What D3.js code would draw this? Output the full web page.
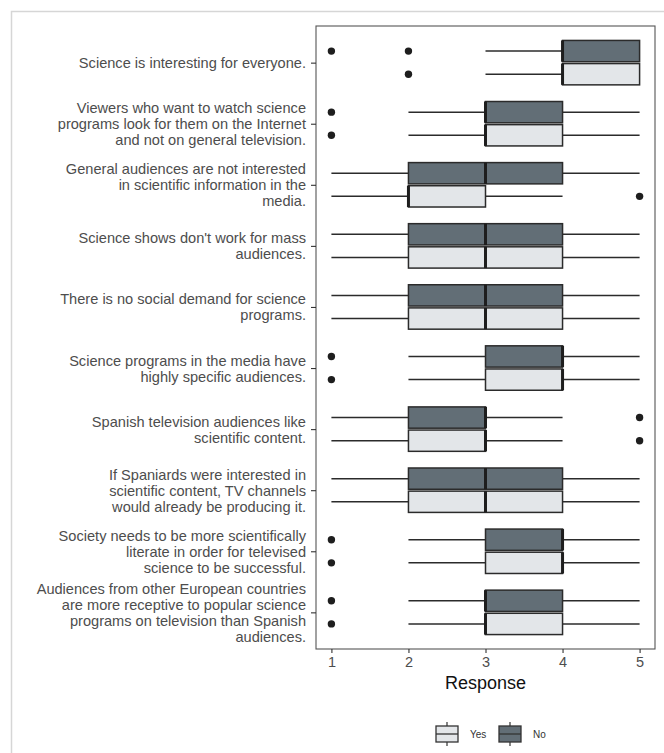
<!DOCTYPE html>
<html>
<head>
<meta charset="utf-8">
<script src="https://cdn.jsdelivr.net/npm/d3@7"></script>
<style>
  html, body { margin: 0; padding: 0; background: #fff; }
  svg { display: block; font-family: "Liberation Sans", Arial, sans-serif; }
</style>
</head>
<body>
<svg id="chart" width="664" height="753"></svg>
<script>
// Survey statements (wrapped onto lines as drawn on the axis)
const statements = [
  ["Science is interesting for everyone."],
  ["Viewers who want to watch science", "programs look for them on the Internet", "and not on general television."],
  ["General audiences are not interested", "in scientific information in the", "media."],
  ["Science shows don't work for mass", "audiences."],
  ["There is no social demand for science", "programs."],
  ["Science programs in the media have", "highly specific audiences."],
  ["Spanish television audiences like", "scientific content."],
  ["If Spaniards were interested in", "scientific content, TV channels", "would already be producing it."],
  ["Society needs to be more scientifically", "literate in order for televised", "science to be successful."],
  ["Audiences from other European countries", "are more receptive to popular science", "programs on television than Spanish", "audiences."]
];

const groups = ["No", "Yes"];          // stacking order inside each row
const legendGroups = ["Yes", "No"];    // legend order
const xTicks = [1, 2, 3, 4, 5];

// Five-number summaries per statement
const noLow     = [3, 2, 1, 1, 1, 2, 1, 1, 2, 2];
const noQ1      = [4, 3, 2, 2, 2, 3, 2, 2, 3, 3];
const noMedian  = [4, 3, 3, 3, 3, 4, 3, 3, 4, 3];
const noQ3      = [5, 4, 4, 4, 4, 4, 3, 4, 4, 4];
const noHigh    = [5, 5, 5, 5, 5, 5, 4, 5, 5, 5];
const noOutliers = [[1, 2], [1], [], [], [], [1], [5], [], [1], [1]];

const yesLow    = [3, 2, 1, 1, 1, 2, 1, 1, 2, 2];
const yesQ1     = [4, 3, 2, 2, 2, 3, 2, 2, 3, 3];
const yesMedian = [4, 3, 2, 3, 3, 4, 3, 3, 4, 3];
const yesQ3     = [5, 4, 3, 4, 4, 4, 3, 4, 4, 4];
const yesHigh   = [5, 5, 4, 5, 5, 5, 4, 5, 5, 5];
const yesOutliers = [[2], [1], [5], [], [], [1], [5], [], [1], [1]];

const fills = { Yes: "#e3e6e9", No: "#626e76" };

const rows = [];
statements.forEach((s, i) => {
  rows.push({ idx: i, group: "No", low: noLow[i], q1: noQ1[i], med: noMedian[i], q3: noQ3[i], high: noHigh[i], out: noOutliers[i] });
  rows.push({ idx: i, group: "Yes", low: yesLow[i], q1: yesQ1[i], med: yesMedian[i], q3: yesQ3[i], high: yesHigh[i], out: yesOutliers[i] });
});

const svg = d3.select("#chart");

// outer frame
svg.append("path")
  .attr("d", "M11.5,753 V11.5 H664")
  .attr("fill", "none").attr("stroke", "#d6d6d6").attr("stroke-width", 1.5);

const panel = { left: 316, right: 655, top: 26, bottom: 649 };

const x = d3.scaleLinear().domain([0.8, 5.2]).range([panel.left, panel.right]);
const y = d3.scalePoint().domain(d3.range(statements.length)).range([panel.top, panel.bottom]).padding(0.6);
const step = y.step();
const inner = d3.scaleBand().domain(groups)
  .range([-0.375 * step, 0.375 * step]).paddingInner(0.08).paddingOuter(0.03);
const bh = inner.bandwidth();

const g = svg.append("g");

const box = g.selectAll("g.box").data(rows).join("g")
  .attr("class", "box")
  .attr("transform", d => `translate(0,${y(d.idx) + inner(d.group) + bh / 2})`);

// whiskers
box.append("line")
  .attr("x1", d => x(d.low)).attr("x2", d => x(d.q1))
  .attr("stroke", "#2b2b2b").attr("stroke-width", 1.5);
box.append("line")
  .attr("x1", d => x(d.q3)).attr("x2", d => x(d.high))
  .attr("stroke", "#2b2b2b").attr("stroke-width", 1.5);

// boxes
box.append("rect")
  .attr("x", d => x(d.q1)).attr("width", d => x(d.q3) - x(d.q1))
  .attr("y", -bh / 2).attr("height", bh)
  .attr("fill", d => fills[d.group])
  .attr("stroke", "#2b2b2b").attr("stroke-width", 1.5);

// medians
box.append("line")
  .attr("x1", d => x(d.med)).attr("x2", d => x(d.med))
  .attr("y1", -bh / 2).attr("y2", bh / 2)
  .attr("stroke", "#1e1e1e").attr("stroke-width", 3);

// outliers
box.selectAll("circle").data(d => d.out).join("circle")
  .attr("cx", v => x(v)).attr("cy", 0).attr("r", 3.7)
  .attr("fill", "#1e1e1e");

// panel border
svg.append("rect")
  .attr("x", panel.left).attr("y", panel.top)
  .attr("width", panel.right - panel.left).attr("height", panel.bottom - panel.top)
  .attr("fill", "none").attr("stroke", "#555").attr("stroke-width", 1.1);

// x axis
const xAxis = d3.axisBottom(x).tickValues(xTicks).tickSize(4).tickPadding(4).tickFormat(d3.format("d"));
const xg = svg.append("g").attr("transform", `translate(0,${panel.bottom})`).call(xAxis);
xg.select(".domain").remove();
xg.selectAll(".tick line").attr("stroke", "#333").attr("stroke-width", 1.1);
xg.selectAll(".tick text").attr("fill", "#4d4d4d").attr("font-size", 14.5).attr("font-family", "Liberation Sans, Arial, sans-serif");

svg.append("text")
  .attr("x", (panel.left + panel.right) / 2).attr("y", 689)
  .attr("text-anchor", "middle").attr("font-size", 18).attr("fill", "#111")
  .text("Response");

// y axis
const yAxis = d3.axisLeft(y).tickSize(5).tickFormat(() => "");
const yg = svg.append("g").attr("transform", `translate(${panel.left},0)`).call(yAxis);
yg.select(".domain").remove();
yg.selectAll(".tick line").attr("stroke", "#333").attr("stroke-width", 1.1);

const lineH = 16;
yg.selectAll(".tick text").each(function (d) {
  const lines = statements[d];
  const t = d3.select(this)
    .attr("x", -10).attr("dy", null)
    .attr("y", -(lines.length - 1) * lineH / 2)
    .attr("text-anchor", "end").attr("dominant-baseline", "central")
    .attr("fill", "#4d4d4d").attr("font-size", 14.6)
    .attr("font-family", "Liberation Sans, Arial, sans-serif");
  t.selectAll("tspan").data(lines).join("tspan")
    .attr("x", -10).attr("dy", (l, i) => i === 0 ? 0 : lineH)
    .text(l => l);
});

// legend
const legend = svg.append("g").attr("transform", "translate(436,734)");
const keyW = 22, keyH = 16, keyGap = 63;
const key = legend.selectAll("g").data(legendGroups).join("g")
  .attr("transform", (d, i) => `translate(${i * keyGap},0)`);
key.append("line").attr("x1", keyW / 2).attr("x2", keyW / 2).attr("y1", -12).attr("y2", 12)
  .attr("stroke", "#333").attr("stroke-width", 1.2);
key.append("rect").attr("x", 0).attr("y", -keyH / 2).attr("width", keyW).attr("height", keyH)
  .attr("fill", d => fills[d]).attr("stroke", "#333").attr("stroke-width", 1.3);
key.append("line").attr("x1", 0).attr("x2", keyW).attr("y1", 0).attr("y2", 0)
  .attr("stroke", "#333").attr("stroke-width", 1.3);
key.append("text").attr("x", keyW + 12).attr("y", 0)
  .attr("dominant-baseline", "central").attr("font-size", 10).attr("fill", "#333")
  .text(d => d);
</script>
</body>
</html>
